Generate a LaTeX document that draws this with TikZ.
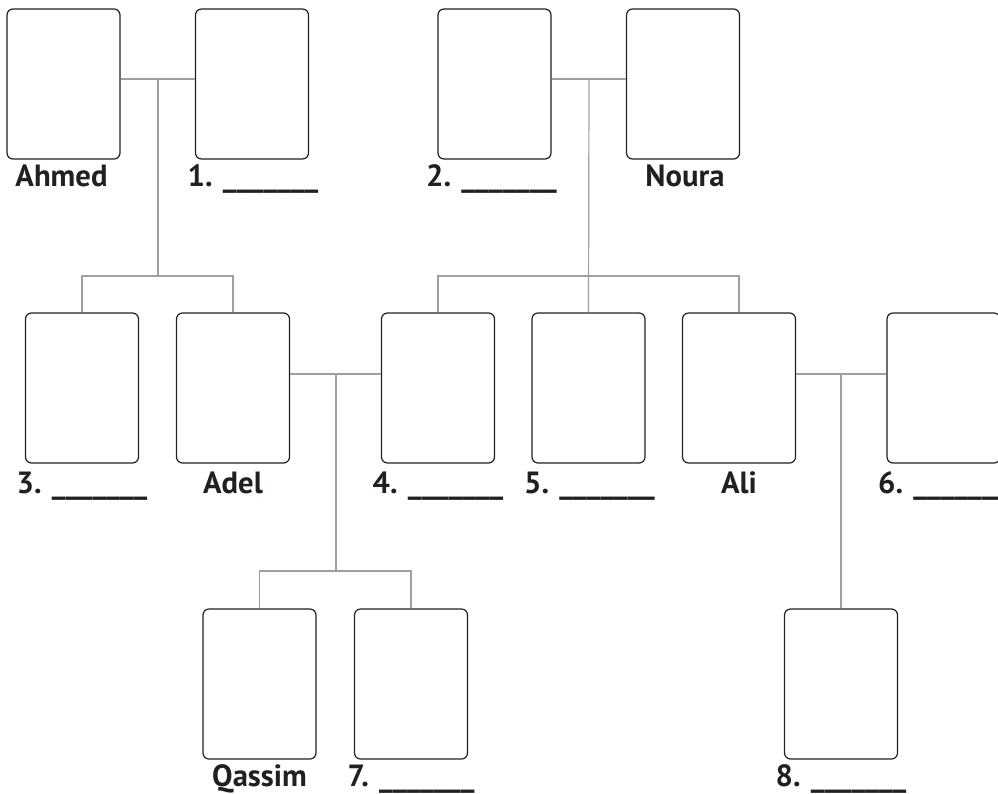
\documentclass[tikz,border=0pt]{standalone}
\usepackage{fontspec}
\setmainfont{PT Sans}
\usetikzlibrary{calc}
\definecolor{boxcolor}{RGB}{35,31,32}
\definecolor{linkcolor}{RGB}{160,160,160}

\begin{document}
\begin{tikzpicture}[
  x=0.75pt,y=-0.75pt,
  person/.style={rectangle,rounded corners=4.5pt,draw=boxcolor,line width=0.9pt,
                 minimum width=84.75pt,minimum height=112.5pt,inner sep=0pt},
  link/.style={draw=linkcolor,line width=0.9pt},
  lbl/.style={anchor=base,font=\fontsize{23}{27}\selectfont\bfseries,text=boxcolor,inner sep=0pt}
]
\clip (0,0) rectangle (998,793);
%% Personnes
\node[person] (ahmed)  at (63.5,84)  {};
\node[person] (p1)     at (252,84)   {};
\node[person] (p2)     at (494.5,84) {};
\node[person] (noura)  at (683,84)   {};
\node[person] (c3)     at (82,388)   {};
\node[person] (adel)   at (233,388)  {};
\node[person] (c4)     at (438,388)  {};
\node[person] (c5)     at (588.5,388) {};
\node[person] (ali)    at (739,388)  {};
\node[person] (c6)     at (943.5,388) {};
\node[person] (qassim) at (259.5,684) {};
\node[person] (c7)     at (411,684)  {};
\node[person] (c8)     at (841,684)  {};
%% Points de jonction
\coordinate (m1) at (158,79);
\coordinate (m2) at (589,79);
\coordinate (m3) at (336,374);
\coordinate (m4) at (841,374);
\coordinate (s1) at (158,276);
\coordinate (s2) at (589,276);
\coordinate (s3) at (336,571);
%% Liens
\draw[link] (ahmed.east |- m1) -- (p1.west |- m1);
\draw[link] (m1) -- (s1);
\draw[link] (c3.north) |- (s1) -| (adel.north);
\draw[link] (p2.east |- m2) -- (noura.west |- m2);
\draw[link] (m2) -- (c5.north);
\draw[link] (c4.north) |- (s2) -| (ali.north);
\draw[link] (adel.east |- m3) -- (c4.west |- m3);
\draw[link] (m3) -- (s3);
\draw[link] (qassim.north) |- (s3) -| (c7.north);
\draw[link] (ali.east |- m4) -- (c6.west |- m4);
\draw[link] (m4) -- (c8.north);
%% Noms
\node[lbl] (lahmed)  at ($(ahmed.south)+(-2,27)$) {Ahmed};
\node[lbl] (l1)      at ($(p1.south)+(1,27)$)     {1. \_\_\_\_\_\_\_};
\node[lbl] (l2)      at ($(p2.south)+(-3,27)$)    {2. \_\_\_\_\_\_\_};
\node[lbl] (lnoura)  at ($(noura.south)+(2,27)$)  {Noura};
\node[lbl] (l3)      at ($(c3.south)+(0,30)$)     {3. \_\_\_\_\_\_\_};
\node[lbl] (ladel)   at ($(adel.south)+(0,30)$)   {Adel};
\node[lbl] (l4)      at ($(c4.south)+(0,30)$)     {4. \_\_\_\_\_\_\_};
\node[lbl] (l5)      at ($(c5.south)+(1,30)$)     {5. \_\_\_\_\_\_\_};
\node[lbl] (lali)    at ($(ali.south)+(0,30)$)    {Ali};
\node[lbl] (l6)      at ($(c6.south)+(0,30)$)     {6. \_\_\_\_\_\_\_};
\node[lbl] (lqassim) at ($(qassim.south)+(0,27)$) {Qassim};
\node[lbl] (l7)      at ($(c7.south)+(0,27)$)     {7. \_\_\_\_\_\_\_};
\node[lbl] (l8)      at ($(c8.south)+(0,27)$)     {8. \_\_\_\_\_\_\_};
\end{tikzpicture}
\end{document}
